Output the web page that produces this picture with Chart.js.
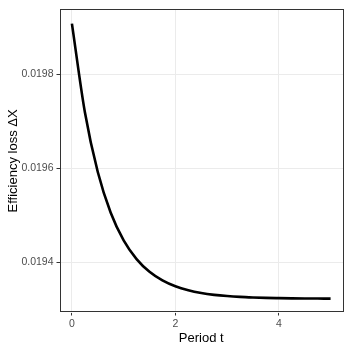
<!DOCTYPE html>
<html>
<head>
<meta charset="utf-8">
<script src="https://cdn.jsdelivr.net/npm/chart.js@4/dist/chart.umd.min.js"></script>
<style>
  html, body { margin: 0; padding: 0; background: #ffffff; }
  #wrap { width: 349px; height: 349px; position: relative; }
</style>
</head>
<body>
<div id="wrap"><canvas id="c" width="349" height="349"></canvas></div>
<script>
// Data
const periods = [0, 0.25, 0.5, 0.75, 1, 1.25, 1.5, 1.75, 2, 2.25, 2.5, 2.75, 3, 3.25, 3.5, 3.75, 4, 4.25, 4.5, 4.75, 5];
const efficiencyLoss = [0.0199072, 0.0197195, 0.0195921, 0.0195056, 0.0194469, 0.0194071, 0.0193800, 0.0193617,
  0.0193492, 0.0193408, 0.0193350, 0.0193311, 0.0193285, 0.0193267, 0.0193255, 0.0193246, 0.0193241,
  0.0193237, 0.0193234, 0.0193232, 0.0193231];
const xTicks = [0, 2, 4];
const yTicks = [0.0194, 0.0196, 0.0198];

const points = periods.map((t, i) => ({ x: t, y: efficiencyLoss[i] }));

const panelBorder = {
  id: 'panelBorder',
  afterDraw(chart) {
    const { ctx, chartArea: a } = chart;
    ctx.save();
    ctx.strokeStyle = '#333333';
    ctx.lineWidth = 1;
    ctx.strokeRect(Math.round(a.left) + 0.5, Math.round(a.top) + 0.5,
      Math.round(a.right - a.left) - 1, Math.round(a.bottom - a.top) - 1);
    ctx.restore();
  }
};

new Chart(document.getElementById('c'), {
  type: 'line',
  data: {
    datasets: [{
      data: points,
      borderColor: '#000000',
      borderWidth: 2.6,
      pointRadius: 0,
      fill: false,
      cubicInterpolationMode: 'monotone'
    }]
  },
  options: {
    responsive: false,
    animation: false,
    layout: { padding: { top: 5, right: 6, left: 0, bottom: 0 } },
    plugins: { legend: { display: false }, tooltip: { enabled: false } },
    scales: {
      x: {
        type: 'linear',
        min: -0.24,
        max: 5.24,
        afterBuildTicks: s => { s.ticks = xTicks.map(v => ({ value: v })); },
        afterFit: s => { s.height = 36.5; },
        grid: { color: '#ebebeb', lineWidth: 1, tickColor: '#333333', tickLength: 3, drawOnChartArea: true },
        border: { display: false },
        ticks: {
          color: '#4d4d4d',
          font: { family: 'Liberation Sans, Arial, sans-serif', size: 10.5 },
          padding: 2,
          maxRotation: 0,
          callback: v => String(v)
        },
        title: {
          display: true,
          text: 'Period t',
          color: '#000000',
          font: { family: 'Liberation Sans, Arial, sans-serif', size: 13 },
          padding: { top: 0, bottom: 3 }
        }
      },
      y: {
        type: 'linear',
        min: 0.0192936,
        max: 0.0199376,
        afterBuildTicks: s => { s.ticks = yTicks.map(v => ({ value: v })); },
        afterFit: s => { s.width = 59.5; },
        grid: { color: '#ebebeb', lineWidth: 1, tickColor: '#333333', tickLength: 3 },
        border: { display: false },
        ticks: {
          color: '#4d4d4d',
          font: { family: 'Liberation Sans, Arial, sans-serif', size: 10.5 },
          padding: 3,
          callback: v => Number(v).toFixed(4)
        },
        title: {
          display: true,
          text: 'Efficiency loss ΔX',
          color: '#000000',
          font: { family: 'Liberation Sans, Arial, sans-serif', size: 13 },
          padding: { top: 6, bottom: 0 }
        }
      }
    }
  },
  plugins: [panelBorder]
});
</script>
</body>
</html>
